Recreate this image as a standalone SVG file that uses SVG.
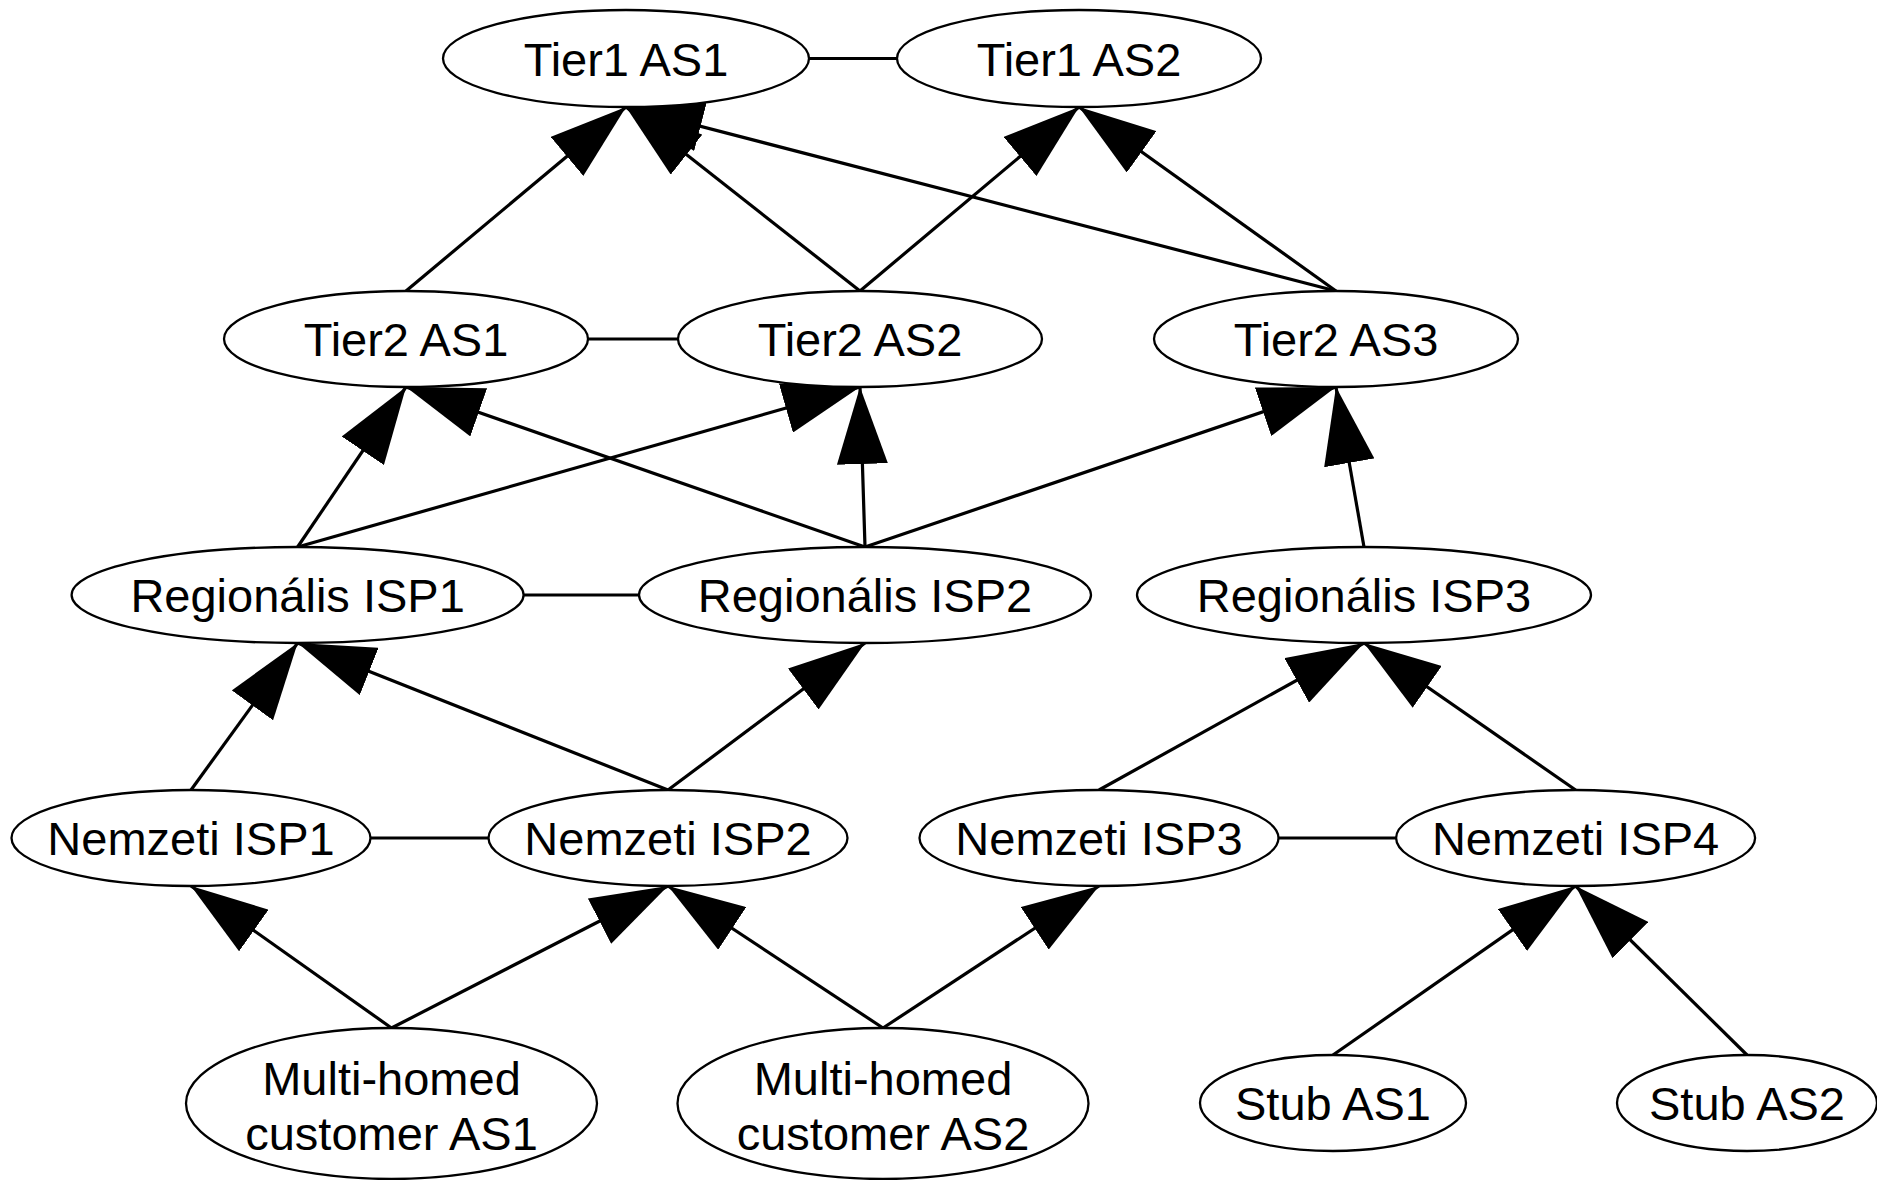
<svg xmlns="http://www.w3.org/2000/svg" width="1877" height="1180" viewBox="0 0 1877 1180">
<style>
.n ellipse{fill:#fff;stroke:#000;stroke-width:2.3}
.n text{font-family:"Liberation Sans",Arial,sans-serif;font-size:47px;fill:#000;text-anchor:middle}
.e line{stroke:#000;stroke-width:3.2;fill:none}
.e .a{marker-end:url(#arr)}
</style>
<defs>
<marker id="arr" markerUnits="userSpaceOnUse" markerWidth="77" markerHeight="51" viewBox="0 0 77 51" refX="77" refY="25.5" orient="auto">
<path d="M0,0 L77,25.5 L0,51 z" fill="#000"/>
</marker>
</defs>
<rect width="1877" height="1180" fill="#fff"/>
<g id="connectors" class="e">
<line x1="809" y1="58.5" x2="897" y2="58.5"/>
<line x1="588" y1="339" x2="678" y2="339"/>
<line x1="523" y1="595" x2="639" y2="595"/>
<line x1="370.5" y1="838" x2="488.5" y2="838"/>
<line x1="1278.5" y1="838" x2="1396" y2="838"/>
<line class="a" x1="406" y1="291" x2="626" y2="107"/>
<line class="a" x1="860" y1="291" x2="626" y2="107"/>
<line class="a" x1="860" y1="291" x2="1079" y2="107"/>
<line class="a" x1="1336" y1="291" x2="626" y2="107"/>
<line class="a" x1="1336" y1="291" x2="1079" y2="107"/>
<line class="a" x1="297.6" y1="547" x2="406" y2="387"/>
<line class="a" x1="297.6" y1="547" x2="860" y2="387"/>
<line class="a" x1="865" y1="547" x2="406" y2="387"/>
<line class="a" x1="865" y1="547" x2="860" y2="387"/>
<line class="a" x1="865" y1="547" x2="1336" y2="387"/>
<line class="a" x1="1364" y1="547" x2="1336" y2="387"/>
<line class="a" x1="191" y1="790" x2="297.6" y2="643"/>
<line class="a" x1="668" y1="790" x2="297.6" y2="643"/>
<line class="a" x1="668" y1="790" x2="865" y2="643"/>
<line class="a" x1="1099" y1="790" x2="1364" y2="643"/>
<line class="a" x1="1575.6" y1="790" x2="1364" y2="643"/>
<line class="a" x1="391.5" y1="1028" x2="191" y2="886"/>
<line class="a" x1="391.5" y1="1028" x2="668" y2="886"/>
<line class="a" x1="883" y1="1028" x2="668" y2="886"/>
<line class="a" x1="883" y1="1028" x2="1099" y2="886"/>
<line class="a" x1="1333" y1="1055" x2="1575.6" y2="886"/>
<line class="a" x1="1747" y1="1055" x2="1575.6" y2="886"/>
</g>
<g id="tier1-as1" class="n"><ellipse cx="626" cy="58.5" rx="183" ry="48.5"/><text x="626" y="76">Tier1 AS1</text></g>
<g id="tier1-as2" class="n"><ellipse cx="1079" cy="58.5" rx="182" ry="48.5"/><text x="1079" y="76">Tier1 AS2</text></g>
<g id="tier2-as1" class="n"><ellipse cx="406" cy="339" rx="182" ry="48"/><text x="406" y="356">Tier2 AS1</text></g>
<g id="tier2-as2" class="n"><ellipse cx="860" cy="339" rx="182" ry="48"/><text x="860" y="356">Tier2 AS2</text></g>
<g id="tier2-as3" class="n"><ellipse cx="1336" cy="339" rx="182" ry="48"/><text x="1336" y="356">Tier2 AS3</text></g>
<g id="reg-isp1" class="n"><ellipse cx="297.6" cy="595" rx="226" ry="48"/><text x="297.6" y="612">Regionális ISP1</text></g>
<g id="reg-isp2" class="n"><ellipse cx="865" cy="595" rx="226" ry="48"/><text x="865" y="612">Regionális ISP2</text></g>
<g id="reg-isp3" class="n"><ellipse cx="1364" cy="595" rx="227" ry="48"/><text x="1364" y="612">Regionális ISP3</text></g>
<g id="nem-isp1" class="n"><ellipse cx="191" cy="838" rx="179.5" ry="48"/><text x="191" y="855">Nemzeti ISP1</text></g>
<g id="nem-isp2" class="n"><ellipse cx="668" cy="838" rx="179.5" ry="48"/><text x="668" y="855">Nemzeti ISP2</text></g>
<g id="nem-isp3" class="n"><ellipse cx="1099" cy="838" rx="179.5" ry="48"/><text x="1099" y="855">Nemzeti ISP3</text></g>
<g id="nem-isp4" class="n"><ellipse cx="1575.6" cy="838" rx="179.5" ry="48"/><text x="1575.6" y="855">Nemzeti ISP4</text></g>
<g id="multi-as1" class="n"><ellipse cx="391.5" cy="1103.5" rx="205.5" ry="75.5"/><text x="391.5" y="1095">Multi-homed</text><text x="391.5" y="1150">customer AS1</text></g>
<g id="multi-as2" class="n"><ellipse cx="883" cy="1103.5" rx="205.5" ry="75.5"/><text x="883" y="1095">Multi-homed</text><text x="883" y="1150">customer AS2</text></g>
<g id="stub-as1" class="n"><ellipse cx="1333" cy="1103" rx="133" ry="48"/><text x="1333" y="1120">Stub AS1</text></g>
<g id="stub-as2" class="n"><ellipse cx="1747" cy="1103" rx="130" ry="48"/><text x="1747" y="1120">Stub AS2</text></g>
</svg>
